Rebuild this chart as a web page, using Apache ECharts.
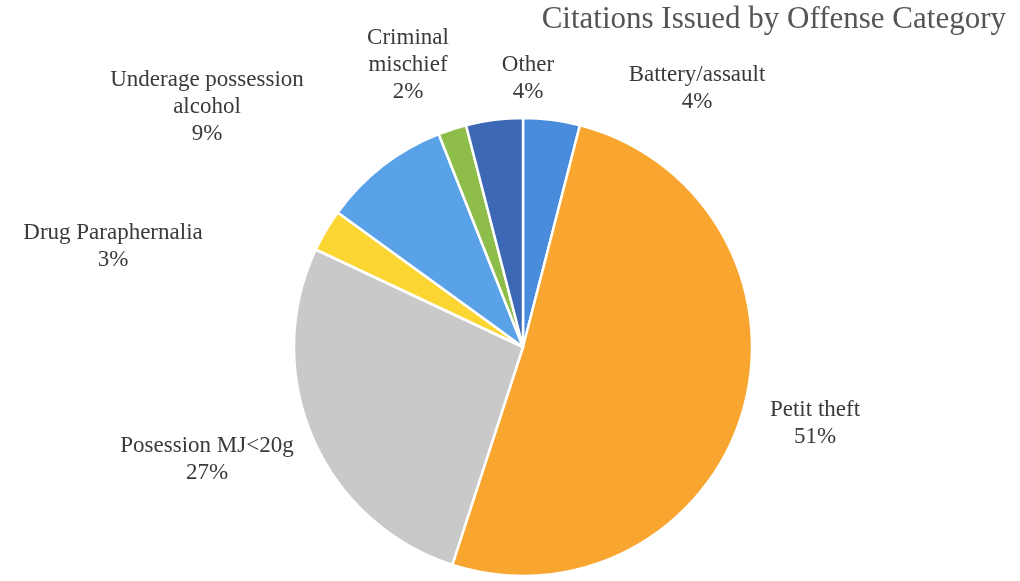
<!DOCTYPE html>
<html><head><meta charset="utf-8">
<script src="https://cdn.jsdelivr.net/npm/echarts@6/dist/echarts.min.js"></script>
<style>html,body{margin:0;padding:0;background:#fff}#c{width:1020px;height:581px}</style>
</head><body><div id="c"></div>
<script>
const categories = ["Battery/assault","Petit theft","Posession MJ<20g","Drug Paraphernalia","Underage possession\nalcohol","Criminal\nmischief","Other"];
const values = [4, 51, 27, 3, 9, 2, 4];
const colors = ["#4a8cdc","#f8a630","#c9c9c9","#fbd532","#5aa2e8","#8fbd4a","#3d68b5"];
// label centre positions (layout only)
const labelPos = [[697,88],[815,423],[207,459],[113,246],[207,107],[408,65],[528,78]];

const chart = echarts.init(document.getElementById('c'));
chart.setOption({
  backgroundColor:'#fff',
  title:{text:'Citations Issued by Offense Category',right:9,top:-1,
    textStyle:{fontFamily:'Liberation Serif',fontSize:31,fontWeight:'normal',color:'#555'}},
  series:[{
    type:'pie',center:[523,347],radius:229,startAngle:90,clockwise:true,
    percentPrecision:0,
    itemStyle:{borderColor:'#fff',borderWidth:2.5},
    label:{show:true,position:'outside',formatter:'{b}\n{d}%',
      fontFamily:'Liberation Serif',fontSize:23,lineHeight:27,color:'#3a3a3a',align:'center'},
    labelLine:{show:false},
    labelLayout:function(p){const q=labelPos[p.dataIndex];return {x:q[0],y:q[1],align:'center',verticalAlign:'middle'};},
    emphasis:{disabled:true},
    data:categories.map((c,i)=>({name:c,value:values[i],itemStyle:{color:colors[i]}}))
  }]
});
</script></body></html>
